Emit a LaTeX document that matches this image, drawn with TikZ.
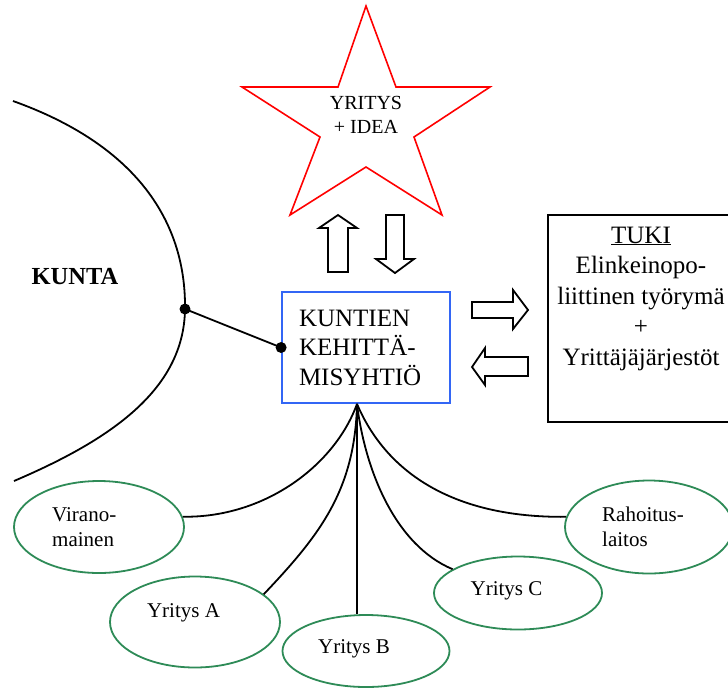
\documentclass[tikz,border=0pt]{standalone}
\usepackage{fontspec}
\setmainfont{Liberation Serif}
\usetikzlibrary{shapes.geometric}
\definecolor{starred}{RGB}{255,0,0}
\definecolor{boxblue}{RGB}{51,102,245}
\definecolor{partygreen}{RGB}{46,139,87}

\begin{document}
\begin{tikzpicture}[x=1pt, y=-1pt,
    starline/.style={draw=starred, line width=1.6pt},
    blockarrow/.style={draw, line width=1.8pt, fill=white},
    kehbox/.style={draw=boxblue, line width=1.8pt, text width=134pt, inner xsep=17pt,
      minimum height=111pt, align=left, font=\fontsize{25}{29.5}\selectfont},
    tukibox/.style={draw, line width=2.4pt, minimum width=186pt, minimum height=207pt},
    party/.style={ellipse, draw=partygreen, line width=1.8pt, inner sep=0pt},
    partytext/.style={inner sep=0pt, align=left, font=\fontsize{21}{25}\selectfont},
    linkline/.style={line width=1.8pt}]
    % coordinates are pixels of the 728x689 sheet, y grows downwards
    \useasboundingbox (0,0) rectangle (728,689);

    % the idea star
    \draw[starline] (366,6) -- (396,87) -- (490,87) -- (414,137) -- (442,215) -- (366,167)
      -- (290,215) -- (320,137) -- (242,87) -- (338,87) -- cycle;
    \node[align=center, inner sep=0pt, font=\fontsize{20}{24}\selectfont] (idea) at (366,114.4) {YRITYS\\+ IDEA};

    % municipality border
    \draw[linkline] (13,101) .. controls (150,150) and (186,235) .. (185,309) coordinate (kuntaDot)
      .. controls (184,390) and (110,440) .. (14,481);
    \node[anchor=base, inner sep=0pt, font=\fontsize{24.5}{29}\selectfont\bfseries] (kunta) at (75,284) {KUNTA};

    \node[kehbox] (kehitys) at (366,347.5) {KUNTIEN\\KEHITTÄ-\\MISYHTIÖ};
    \draw[linkline] (kuntaDot) -- (kehitys.west);
    \fill (kuntaDot) circle (5.5pt);
    \fill (kehitys.west) circle (5.5pt);

    \node[tukibox] (tuki) at (641,318.5) {};
    \node[align=center, inner sep=0pt, font=\fontsize{25}{30.5}\selectfont] (tukiText) at (641,298.5)
      {\underline{TUKI}\\Elinkeinopo-\\liittinen työrymä\\+\\Yrittäjäjärjestöt};

    % block arrows
    \draw[blockarrow] (328,272) -- (328,228) -- (319,228) -- (338,215) -- (357,228) -- (348,228) -- (348,272) -- cycle;
    \draw[blockarrow] (386,215) -- (404,215) -- (404,259) -- (414,259) -- (395,273) -- (376,259) -- (386,259) -- cycle;
    \draw[blockarrow] (472,302) -- (513,302) -- (513,290) -- (528,310) -- (513,329) -- (513,318) -- (472,318) -- cycle;
    \draw[blockarrow] (528,357) -- (485,357) -- (485,348) -- (472,367) -- (485,385) -- (485,376) -- (528,376) -- cycle;

    % partners
    \node[party, minimum width=170pt, minimum height=92pt] (viranomainen) at (99,527) {};
    \node[party, minimum width=170pt, minimum height=91pt] (yritysA) at (195,622) {};
    \node[party, minimum width=167pt, minimum height=72pt] (yritysB) at (366,651) {};
    \node[party, minimum width=168pt, minimum height=73pt] (yritysC) at (518,593) {};
    \node[party, minimum width=168pt, minimum height=93pt] (rahoitus) at (649,527) {};
    \node[partytext, anchor=west] (viranomainenText) at (52,527) {Virano-\\mainen};
    \node[partytext, anchor=west] (rahoitusText) at (602,527) {Rahoitus-\\laitos};
    \node[partytext, anchor=base] (yritysAText) at (183.5,617) {Yritys A};
    \node[partytext, anchor=base] (yritysBText) at (354,653) {Yritys B};
    \node[partytext, anchor=base] (yritysCText) at (506.5,595) {Yritys C};

    \coordinate (hub) at ([xshift=-9pt]kehitys.south);
    \draw[linkline] (hub) .. controls (335,465) and (265,518) .. (viranomainen.7);
    \draw[linkline] (hub) .. controls (355,490) and (320,535) .. (yritysA.22);
    \draw[linkline] (hub) -- (hub |- yritysB.north);
    \draw[linkline] (hub) .. controls (365,470) and (395,545) .. (yritysC.160);
    \draw[linkline] (hub) .. controls (385,470) and (450,518) .. (rahoitus.173);
\end{tikzpicture}
\end{document}
